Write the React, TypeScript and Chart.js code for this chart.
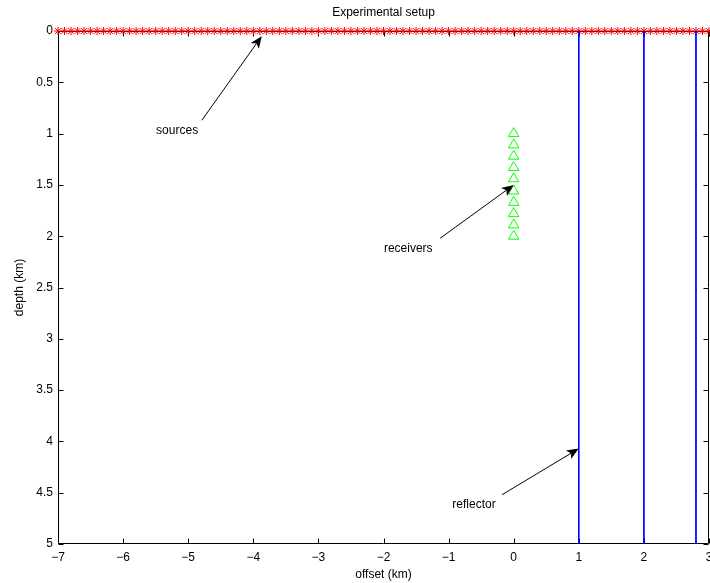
import React, { useEffect, useRef } from 'react';
import { Chart, registerables } from 'chart.js';

Chart.register(...registerables);

// Source positions (offset, km) at the surface
const sourceOffsets = [
  -7, -6.9, -6.8, -6.7, -6.6, -6.5, -6.4, -6.3, -6.2, -6.1,
  -6, -5.9, -5.8, -5.7, -5.6, -5.5, -5.4, -5.3, -5.2, -5.1,
  -5, -4.9, -4.8, -4.7, -4.6, -4.5, -4.4, -4.3, -4.2, -4.1,
  -4, -3.9, -3.8, -3.7, -3.6, -3.5, -3.4, -3.3, -3.2, -3.1,
  -3, -2.9, -2.8, -2.7, -2.6, -2.5, -2.4, -2.3, -2.2, -2.1,
  -2, -1.9, -1.8, -1.7, -1.6, -1.5, -1.4, -1.3, -1.2, -1.1,
  -1, -0.9, -0.8, -0.7, -0.6, -0.5, -0.4, -0.3, -0.2, -0.1,
  0, 0.1, 0.2, 0.3, 0.4, 0.5, 0.6, 0.7, 0.8, 0.9,
  1, 1.1, 1.2, 1.3, 1.4, 1.5, 1.6, 1.7, 1.8, 1.9,
  2, 2.1, 2.2, 2.3, 2.4, 2.5, 2.6, 2.7, 2.8, 2.9,
  3,
];
const sourceDepth = 0;

// Receivers in a well at offset 0
const receiverOffset = 0;
const receiverDepths = [1, 1.11, 1.22, 1.33, 1.44, 1.56, 1.67, 1.78, 1.89, 2];

// Vertical reflectors (offset, km)
const reflectorOffsets = [1, 2, 2.8];
const reflectorDepthRange = [0, 5];

// Axes
const xTickValues = [-7, -6, -5, -4, -3, -2, -1, 0, 1, 2, 3];
const yTickValues = [0, 0.5, 1, 1.5, 2, 2.5, 3, 3.5, 4, 4.5, 5];

// Text annotations with arrows (data coordinates)
const annotationTexts = ['sources', 'receivers', 'reflector'];
const annotationTextX = [-5.17, -1.62, -0.61];
const annotationTextY = [0.97, 2.12, 4.62];
const arrowFromX = [-4.79, -1.13, -0.18];
const arrowFromY = [0.87, 2.02, 4.52];
const arrowToX = [-3.87, 0, 1];
const arrowToY = [0.05, 1.5, 4.07];

const FONT = '"Liberation Sans", Arial, Helvetica, sans-serif';

const minusFmt = (v: number) => String(v).replace('-', '\u2212');

const framePlugin = {
  id: 'framePlugin',
  beforeDatasetsDraw(chart: any) {
    const { ctx, chartArea } = chart;
    const xs = chart.scales.x;
    const ys = chart.scales.y;
    const L = Math.round(chartArea.left) + 0.5;
    const R = Math.round(chartArea.right) - 0.5;
    const T = Math.round(chartArea.top) + 0.5;
    const B = Math.round(chartArea.bottom) - 0.5;
    ctx.save();
    ctx.strokeStyle = '#000';
    ctx.lineWidth = 1;
    ctx.beginPath();
    ctx.rect(L, T, R - L, B - T);
    const tl = 5;
    xTickValues.forEach((v) => {
      const px = Math.round(xs.getPixelForValue(v)) + 0.5;
      ctx.moveTo(px, B);
      ctx.lineTo(px, B - tl);
      ctx.moveTo(px, T);
      ctx.lineTo(px, T + tl);
    });
    yTickValues.forEach((v) => {
      const py = Math.round(ys.getPixelForValue(v)) + 0.5;
      ctx.moveTo(L, py);
      ctx.lineTo(L + tl, py);
      ctx.moveTo(R, py);
      ctx.lineTo(R - tl, py);
    });
    ctx.stroke();
    ctx.restore();
  },
  afterDatasetsDraw(chart: any) {
    const { ctx } = chart;
    const xs = chart.scales.x;
    const ys = chart.scales.y;
    ctx.save();
    ctx.fillStyle = '#000';
    ctx.strokeStyle = '#000';
    ctx.lineWidth = 1;
    ctx.font = `12px ${FONT}`;
    ctx.textAlign = 'center';
    ctx.textBaseline = 'middle';
    annotationTexts.forEach((t, i) => {
      ctx.fillText(t, xs.getPixelForValue(annotationTextX[i]), ys.getPixelForValue(annotationTextY[i]));
      const x0 = xs.getPixelForValue(arrowFromX[i]);
      const y0 = ys.getPixelForValue(arrowFromY[i]);
      const x1 = xs.getPixelForValue(arrowToX[i]);
      const y1 = ys.getPixelForValue(arrowToY[i]);
      const ang = Math.atan2(y1 - y0, x1 - x0);
      const hl = 12;
      const hw = 5;
      const notch = 3;
      const bx = x1 - hl * Math.cos(ang);
      const by = y1 - hl * Math.sin(ang);
      const nx = x1 - (hl - notch) * Math.cos(ang);
      const ny = y1 - (hl - notch) * Math.sin(ang);
      ctx.beginPath();
      ctx.moveTo(x0, y0);
      ctx.lineTo(nx, ny);
      ctx.stroke();
      ctx.beginPath();
      ctx.moveTo(x1, y1);
      ctx.lineTo(bx + hw * Math.sin(ang), by - hw * Math.cos(ang));
      ctx.lineTo(nx, ny);
      ctx.lineTo(bx - hw * Math.sin(ang), by + hw * Math.cos(ang));
      ctx.closePath();
      ctx.fill();
    });
    ctx.restore();
  },
  afterDraw(chart: any) {
    const { ctx, chartArea } = chart;
    const cx = (chartArea.left + chartArea.right) / 2;
    const cy = (chartArea.top + chartArea.bottom) / 2;
    ctx.save();
    ctx.fillStyle = '#000';
    ctx.font = `12px ${FONT}`;
    ctx.textAlign = 'center';
    ctx.textBaseline = 'middle';
    ctx.fillText('Experimental setup', cx, 13);
    ctx.fillText('offset (km)', cx, 575);
    ctx.translate(20, cy);
    ctx.rotate(-Math.PI / 2);
    ctx.fillText('depth (km)', 0, 0);
    ctx.restore();
  },
};

export default function App() {
  const canvasRef = useRef<HTMLCanvasElement | null>(null);

  useEffect(() => {
    if (!canvasRef.current) return;
    const reflectorSets = reflectorOffsets.map((x) => ({
      type: 'line' as const,
      data: reflectorDepthRange.map((d) => ({ x, y: d })),
      borderColor: '#0000ff',
      borderWidth: 1,
      pointRadius: 0,
      showLine: true,
      fill: false,
      clip: false as any,
    }));
    const chart = new Chart(canvasRef.current, {
      type: 'scatter',
      data: {
        datasets: [
          ...reflectorSets,
          {
            type: 'scatter',
            data: receiverDepths.map((d) => ({ x: receiverOffset, y: d })),
            pointStyle: 'triangle',
            pointRadius: 6,
            borderColor: '#00ff00',
            backgroundColor: 'rgba(0,0,0,0)',
            borderWidth: 1,
            clip: false as any,
          },
          {
            type: 'scatter',
            data: sourceOffsets.map((x) => ({ x, y: sourceDepth })),
            pointStyle: 'star',
            pointRadius: 4,
            borderColor: '#ff0000',
            backgroundColor: '#ff0000',
            borderWidth: 1,
            clip: false as any,
          },
        ] as any,
      },
      options: {
        animation: false,
        responsive: false,
        events: [],
        layout: { padding: { left: 0, right: 1, top: 31, bottom: 0 }, autoPadding: false } as any,
        plugins: { legend: { display: false }, tooltip: { enabled: false }, title: { display: false } },
        scales: {
          x: {
            type: 'linear',
            min: -7,
            max: 3,
            afterFit: (s: any) => { s.height = 39; s.paddingLeft = 0; s.paddingRight = 0; },
            afterBuildTicks: (s: any) => { s.ticks = xTickValues.map((v) => ({ value: v })); },
            grid: { display: false, drawTicks: false },
            border: { display: false },
            ticks: {
              padding: 6,
              color: '#000',
              font: { family: FONT, size: 12 },
              maxRotation: 0,
              autoSkip: false,
              callback: (v: any) => minusFmt(Number(v)),
            },
          },
          y: {
            type: 'linear',
            reverse: true,
            min: 0,
            max: 5,
            afterFit: (s: any) => { s.width = 58; s.paddingTop = 0; s.paddingBottom = 0; },
            afterBuildTicks: (s: any) => { s.ticks = yTickValues.map((v) => ({ value: v })); },
            grid: { display: false, drawTicks: false },
            border: { display: false },
            ticks: {
              padding: 5,
              color: '#000',
              font: { family: FONT, size: 12 },
              autoSkip: false,
              callback: (v: any) => minusFmt(Number(v)),
            },
          },
        },
      },
      plugins: [framePlugin],
    } as any);
    return () => chart.destroy();
  }, []);

  return (
    <div style={{ position: 'fixed', left: 0, top: 0, width: 710, height: 583, background: '#fff' }}>
      <canvas ref={canvasRef} width={710} height={583} style={{ width: 710, height: 583, display: 'block' }} />
    </div>
  );
}
